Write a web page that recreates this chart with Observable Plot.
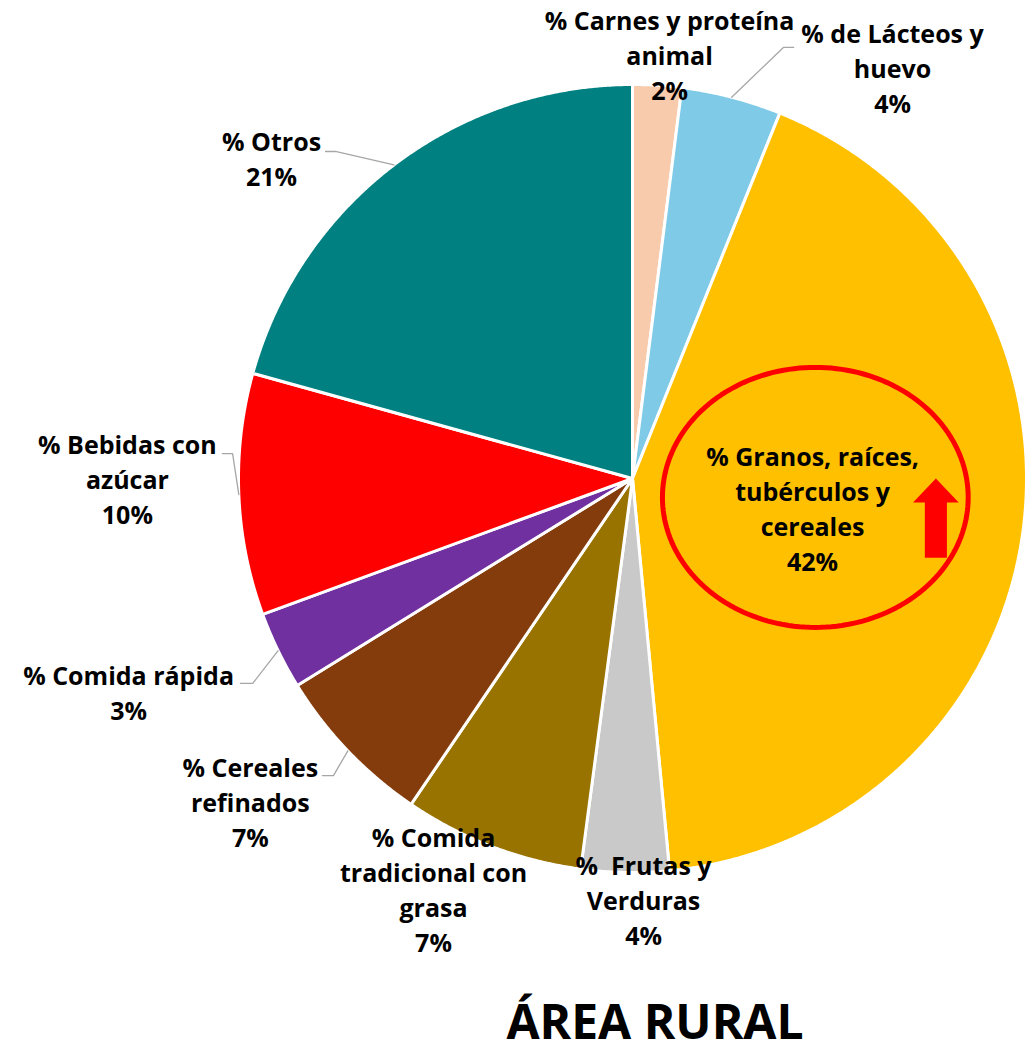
<!DOCTYPE html>
<html><head><meta charset="utf-8">
<script src="https://cdn.jsdelivr.net/npm/d3@7"></script>
<script src="https://cdn.jsdelivr.net/npm/@observablehq/plot@0.6"></script>
<style>
body{margin:0;background:#fff;font-family:"Open Sans",sans-serif}
#chart svg{display:block}
#title{box-sizing:border-box;width:1031px;padding-left:279px;text-align:center;font-size:48px;font-weight:700;line-height:1;color:#000;margin-top:2px}
</style>
</head><body><div id="chart"></div><div id="title">ÁREA RURAL</div>
<script>
// ---- data ----
const categories = [
  "% Carnes y proteína\nanimal",
  "% de Lácteos y\nhuevo",
  "% Granos, raíces,\ntubérculos y\ncereales",
  "%  Frutas y\nVerduras",
  "% Comida\ntradicional con\ngrasa",
  "% Cereales\nrefinados",
  "% Comida rápida",
  "% Bebidas con\nazúcar",
  "% Otros"
];
const values = [2.0, 4.1, 42.4, 3.6, 7.4, 6.7, 3.2, 9.9, 20.7];
const colors = ["#F8CBAD", "#7FCAE6", "#FFC000", "#C9C9C9", "#997300", "#843C0C", "#7030A0", "#FF0000", "#008080"];

// ---- layout (label placement, in radius units relative to pie centre) ----
const labelX = [0.094, 0.660, 0.457, 0.028, -0.505, -0.970, -1.279, -1.282, -0.916];
const labelY = [1.079, 1.046, -0.072, -1.066, -1.040, -0.817, -0.540, 0.003, 0.815];
// leader lines: [elbowX, elbowY, endX, endY] or null
const leaders = [
  null,
  [0.383, 1.094, 0.409, 1.094],
  null, null, null,
  [-0.759, -0.754, -0.787, -0.754],
  [-0.964, -0.520, -0.995, -0.520],
  [-1.015, 0.063, -1.041, 0.063],
  [-0.754, 0.830, -0.779, 0.830]
];

// ---- build slices ----
const total = d3.sum(values);
const slices = [];
const labels = [];
const leaderPts = [];
let cum = 0;
values.forEach((v, i) => {
  const a0 = cum / total * 2 * Math.PI;
  cum += v;
  const a1 = cum / total * 2 * Math.PI;
  const name = categories[i];
  slices.push({name, x: 0, y: 0, k: 0});
  const n = Math.max(2, Math.ceil((a1 - a0) / (Math.PI / 720)));
  for (let j = 0; j <= n; j++) {
    const a = a0 + (a1 - a0) * j / n;
    slices.push({name, x: Math.sin(a), y: Math.cos(a), k: j + 1});
  }
  slices.push({name, x: 0, y: 0, k: n + 2});
  labels.push({name, x: labelX[i], y: labelY[i], text: name + "\n" + Math.round(v) + "%"});
  if (leaders[i]) {
    const am = (a0 + a1) / 2;
    const L = leaders[i];
    leaderPts.push({id: i, x: Math.sin(am), y: Math.cos(am)});
    leaderPts.push({id: i, x: L[0], y: L[1]});
    leaderPts.push({id: i, x: L[2], y: L[3]});
  }
});

// ---- highlight annotation (ellipse + up arrow) around the largest slice label ----
const ell = {cx: 0.464, cy: -0.048, rx: 0.388, ry: 0.330};
const ellipse = d3.range(0, 361, 2).map(t => ({
  x: ell.cx + ell.rx * Math.cos(t * Math.PI / 180),
  y: ell.cy + ell.ry * Math.sin(t * Math.PI / 180)
}));
const ar = {x: 0.770, tip: 0.000, headBase: -0.061, bottom: -0.201, headHalf: 0.058, shaftHalf: 0.028};
const arrow = [
  [ar.x, ar.tip], [ar.x + ar.headHalf, ar.headBase], [ar.x + ar.shaftHalf, ar.headBase],
  [ar.x + ar.shaftHalf, ar.bottom], [ar.x - ar.shaftHalf, ar.bottom], [ar.x - ar.shaftHalf, ar.headBase],
  [ar.x - ar.headHalf, ar.headBase], [ar.x, ar.tip]
].map(([x, y]) => ({x, y}));

const font = {fontFamily: "Open Sans", fontWeight: 700, fontSize: 25, lineHeight: 1.4, fill: "#000"};

const chart = Plot.plot({
  width: 1031,
  height: 995,
  marginLeft: 238,
  marginRight: 5,
  marginTop: 84,
  marginBottom: 123,
  x: {domain: [-1, 1], axis: null},
  y: {domain: [-1, 1], axis: null},
  color: {domain: categories, range: colors},
  style: {fontFamily: "Open Sans", overflow: "visible"},
  marks: [
    Plot.line(slices, {x: "x", y: "y", z: "name", fill: "name", stroke: "#fff", strokeWidth: 3, strokeLinejoin: "round", sort: {channel: "k"}}),
    Plot.line(leaderPts, {x: "x", y: "y", z: "id", stroke: "#A6A6A6", strokeWidth: 1.3}),
    Plot.line(ellipse, {x: "x", y: "y", stroke: "#FF0000", strokeWidth: 5, fill: "none"}),
    Plot.line(arrow, {x: "x", y: "y", fill: "#FF0000", stroke: "none"}),
    Plot.text(labels, {x: "x", y: "y", text: "text", textAnchor: "middle", ...font})
  ]
});
document.getElementById("chart").append(chart);
</script>
</body></html>
